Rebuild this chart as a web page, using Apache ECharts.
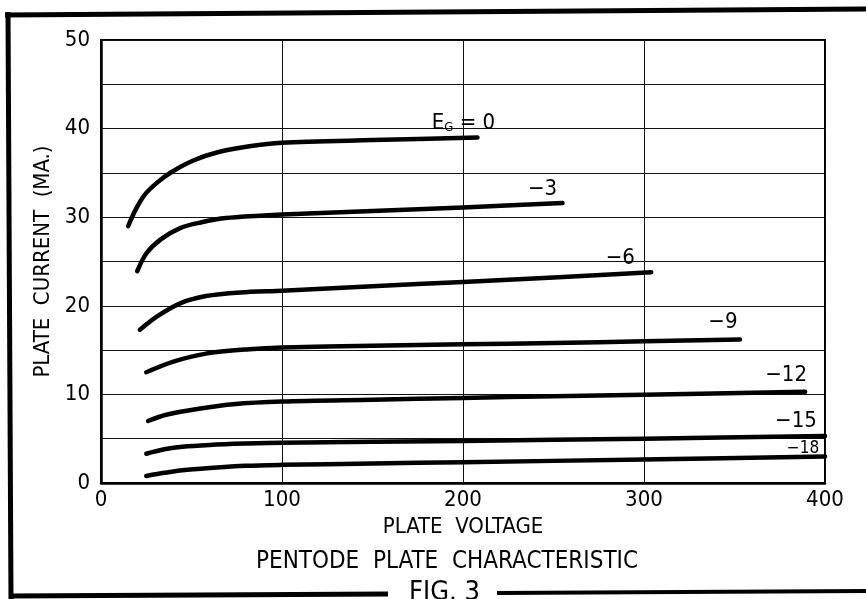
<!DOCTYPE html>
<html><head><meta charset="utf-8">
<script src="https://cdn.jsdelivr.net/npm/echarts@6/dist/echarts.min.js"></script>
<style>html,body{margin:0;padding:0;background:#fff}#c{width:866px;height:599px}</style>
</head><body><div id="c"></div>
<script>
// ---- data ----
const xTicks = [0, 100, 200, 300, 400];
const yTicks = [0, 10, 20, 30, 40, 50];
const curveLabels = ['E_G = 0', '−3', '−6', '−9', '−12', '−15', '−18'];

const voltsEg0  = [15, 19, 24, 31, 39, 51, 64, 82, 100, 150, 208];
const ampsEg0   = [29.0, 30.8, 32.5, 33.9, 35.1, 36.4, 37.3, 38.0, 38.4, 38.7, 39.0];
const voltsEg3  = [20, 25, 33, 44, 55, 69, 100, 150, 200, 255];
const ampsEg3   = [23.9, 25.9, 27.5, 28.8, 29.4, 29.9, 30.3, 30.7, 31.1, 31.6];
const voltsEg6  = [21.5, 31, 44, 58, 77, 100, 150, 200, 250, 304];
const ampsEg6   = [17.3, 18.8, 20.3, 21.1, 21.5, 21.7, 22.2, 22.7, 23.2, 23.8];
const voltsEg9  = [25, 40, 58, 82, 100, 150, 200, 250, 300, 353];
const ampsEg9   = [12.5, 13.7, 14.6, 15.1, 15.3, 15.5, 15.65, 15.8, 16.0, 16.2];
const voltsEg12 = [26, 36, 55, 73, 100, 150, 200, 250, 300, 389];
const ampsEg12  = [7.0, 7.7, 8.4, 8.9, 9.2, 9.4, 9.6, 9.8, 9.95, 10.3];
const voltsEg15 = [25, 35, 45, 60, 80, 100, 200, 300, 400];
const ampsEg15  = [3.3, 3.8, 4.1, 4.3, 4.45, 4.55, 4.75, 5.0, 5.3];
const voltsEg18 = [25, 35, 45, 60, 80, 100, 150, 200, 300, 400];
const ampsEg18  = [0.8, 1.15, 1.45, 1.7, 1.95, 2.05, 2.2, 2.35, 2.65, 3.0];

const curves = [
  [voltsEg0, ampsEg0], [voltsEg3, ampsEg3], [voltsEg6, ampsEg6], [voltsEg9, ampsEg9],
  [voltsEg12, ampsEg12], [voltsEg15, ampsEg15], [voltsEg18, ampsEg18]
];

// ---- styling ----
const FONT = '"Liberation Sans Narrow", "DejaVu Sans Condensed", "Liberation Sans", sans-serif';
const labelOffsets = [[-14, -16], [-20, -14], [-31, -14], [-17, -17], [-19, -16], [-29, -15], [-22, -8]];

const chart = echarts.init(document.getElementById('c'), null, {renderer: 'canvas'});

const lineSeries = curves.map(([vs, is], k) => ({
  type: 'line',
  name: curveLabels[k],
  data: vs.map((v, j) => [v, is[j]]),
  smooth: 0.3,
  symbol: 'none',
  silent: true,
  lineStyle: {color: '#000', width: 4.5, cap: 'round', join: 'round'},
  z: 3
}));

const labelSeries = {
  type: 'scatter',
  silent: true,
  symbolSize: 0,
  itemStyle: {opacity: 1},
  z: 4,
  data: curves.map(([vs, is], k) => ({
    value: [vs[vs.length - 1], is[is.length - 1]],
    label: {
      show: true,
      position: 'inside',
      offset: labelOffsets[k],
      fontSize: k === 6 ? 17 : 22,
      formatter: k === 0 ? '{e|E}{g|G}{e| = 0}' : curveLabels[k]
    }
  })),
  label: {
    color: '#000',
    opacity: 1,
    fontFamily: FONT,
    rich: {
      e: {fontSize: 22, fontFamily: FONT, color: '#000', lineHeight: 26, verticalAlign: 'bottom'},
      g: {fontSize: 13, fontFamily: FONT, color: '#000', lineHeight: 12, verticalAlign: 'bottom'}
    }
  }
};

const option = {
  animation: false,
  backgroundColor: '#fff',
  title: {
    text: 'PENTODE  PLATE  CHARACTERISTIC',
    left: 442, top: 545, textAlign: 'center',
    textStyle: {fontFamily: FONT, fontSize: 24, fontWeight: 'normal', color: '#000'}
  },
  grid: {left: 101, right: 41, top: 40, bottom: 116, show: true, borderColor: '#000', borderWidth: 2, backgroundColor: 'transparent'},
  xAxis: {
    type: 'value', min: xTicks[0], max: xTicks[xTicks.length - 1], interval: 100,
    name: 'PLATE  VOLTAGE', nameLocation: 'middle', nameGap: 31,
    nameTextStyle: {fontFamily: FONT, fontSize: 22, color: '#000'},
    axisLine: {show: true, lineStyle: {color: '#000', width: 2.5}},
    axisTick: {show: false},
    axisLabel: {fontFamily: FONT, fontSize: 22, color: '#000', margin: 6},
    splitLine: {show: true, lineStyle: {color: '#111', width: 1}}
  },
  yAxis: {
    type: 'value', min: yTicks[0], max: yTicks[yTicks.length - 1], interval: 5,
    name: 'PLATE  CURRENT  (MA.)', nameLocation: 'middle', nameGap: 41,
    nameTextStyle: {fontFamily: FONT, fontSize: 22, color: '#000'},
    axisLine: {show: true, lineStyle: {color: '#000', width: 2.5}},
    axisTick: {show: false},
    axisLabel: {fontFamily: FONT, fontSize: 22, color: '#000', margin: 11,
      formatter: v => (yTicks.includes(v) ? String(v) : '')},
    splitLine: {show: true, lineStyle: {color: '#111', width: 1}}
  },
  graphic: [
    {type: 'line', shape: {x1: 5, y1: 15, x2: 866, y2: 9}, style: {stroke: '#000', lineWidth: 5}},
    {type: 'line', shape: {x1: 8, y1: 12, x2: 11, y2: 599}, style: {stroke: '#000', lineWidth: 5}},
    {type: 'line', shape: {x1: 9, y1: 596, x2: 388, y2: 594}, style: {stroke: '#000', lineWidth: 5}},
    {type: 'line', shape: {x1: 497, y1: 593, x2: 866, y2: 591}, style: {stroke: '#000', lineWidth: 4}},
    {type: 'text', left: 409, top: 579, style: {text: 'FIG. 3', fontFamily: FONT, fontSize: 27, fill: '#000'}}
  ],
  series: [...lineSeries, labelSeries]
};
chart.setOption(option);
</script>
</body></html>
